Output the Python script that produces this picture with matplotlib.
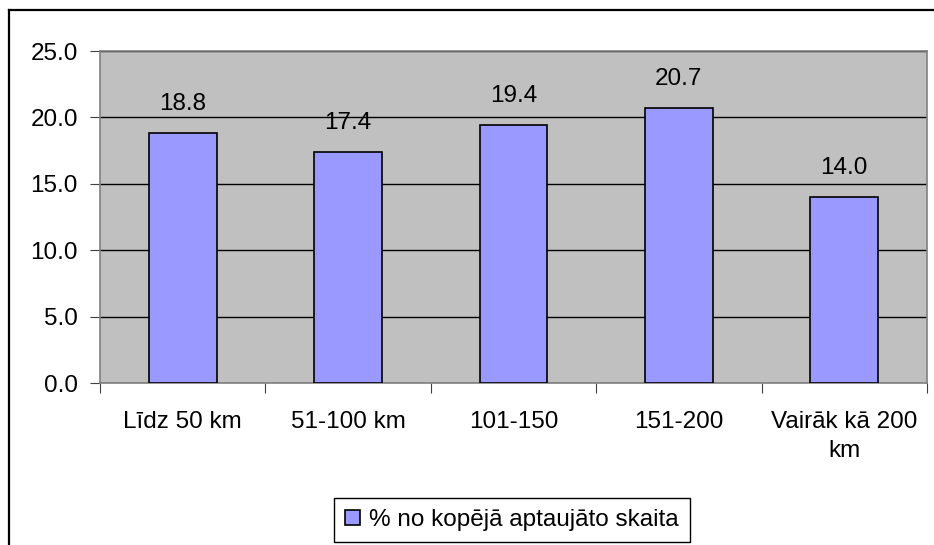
import matplotlib.pyplot as plt
import numpy as np
from matplotlib.lines import Line2D

# Dati ==============================================================
kategorijas = ['Līdz 50 km', '51-100 km', '101-150', '151-200', 'Vairāk kā 200\nkm']
vertibas = [18.8, 17.4, 19.4, 20.7, 14.0]
serija = '% no kopējā aptaujāto skaita'
y_ticks = [0, 5, 10, 15, 20, 25]

plt.rcParams['font.family'] = ['Liberation Sans', 'DejaVu Sans']
fs = 17.5

fig = plt.figure(figsize=(9.34, 5.45), dpi=100)
ax = fig.add_axes([100 / 934, 162 / 545, 827 / 934, 332 / 545])

x = np.arange(len(kategorijas))
bars = ax.bar(x, vertibas, width=0.41, color='#9999FF', edgecolor='black',
              linewidth=1.2, label=serija, zorder=3)

for b, v in zip(bars, vertibas):
    ax.annotate('%.1f' % v, (b.get_x() + b.get_width() / 2, v),
                xytext=(0, 13), textcoords='offset points',
                ha='center', va='bottom', fontsize=fs)

ax.set_facecolor('#C0C0C0')
ax.set_xlim(-0.5, len(kategorijas) - 0.5)
ax.set_ylim(0, 25)
ax.set_yticks(y_ticks)
ax.set_yticklabels(['%.1f' % t for t in y_ticks], fontsize=fs)
ax.yaxis.grid(True, color='black', linewidth=1, zorder=1)
ax.set_axisbelow(True)

# kategoriju nosaukumi centrā, atzīmes starp kategorijām
ax.set_xticks(np.arange(len(kategorijas) + 1) - 0.5)
ax.set_xticklabels([])
ax.set_xticks(x, minor=True)
ax.set_xticklabels(kategorijas, minor=True, fontsize=fs, linespacing=1.45)
ax.tick_params(axis='x', which='minor', length=0, pad=20)
ax.tick_params(axis='x', which='major', length=7, color='#404040')
ax.tick_params(axis='y', length=7, color='#404040', pad=9)

for s in ax.spines.values():
    s.set_color('#808080')
    s.set_linewidth(1.2)

# ārējais rāmis
fig.add_artist(Line2D([9 / 934, 9 / 934], [0, 1 - 10 / 545], color='black', linewidth=1.6,
                      transform=fig.transFigure))
fig.add_artist(Line2D([9 / 934, 1], [1 - 10 / 545, 1 - 10 / 545], color='black', linewidth=1.6,
                      transform=fig.transFigure))

leg = fig.legend(loc='center', bbox_to_anchor=(512 / 934, 1 - 520 / 545), fontsize=fs,
                 fancybox=False, framealpha=1, edgecolor='black', handlelength=0.6,
                 handleheight=0.6, handletextpad=0.4, borderpad=0.45, borderaxespad=0)
leg.get_frame().set_linewidth(1)

fig.savefig('out.png', dpi=100)
